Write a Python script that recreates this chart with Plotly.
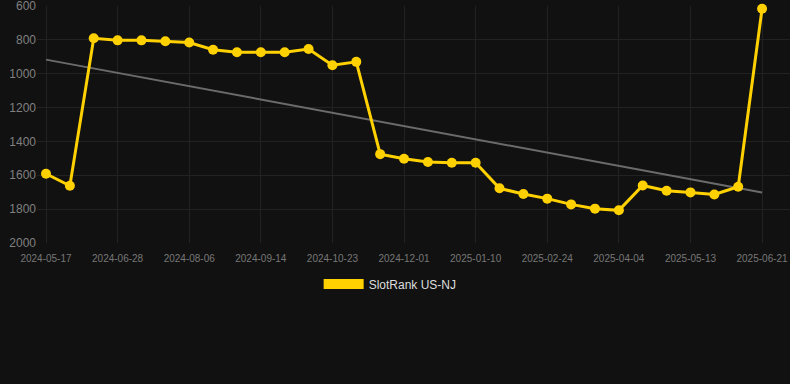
import numpy as np
import plotly.graph_objects as go

dates = ["2024-05-17", "2024-05-31", "2024-06-14", "2024-06-28", "2024-07-11", "2024-07-24",
         "2024-08-06", "2024-08-19", "2024-09-01", "2024-09-14", "2024-09-27", "2024-10-10",
         "2024-10-23", "2024-11-05", "2024-11-18", "2024-12-01", "2024-12-14", "2024-12-27",
         "2025-01-10", "2025-01-25", "2025-02-09", "2025-02-24", "2025-03-09", "2025-03-22",
         "2025-04-04", "2025-04-17", "2025-04-30", "2025-05-13", "2025-05-26", "2025-06-08",
         "2025-06-21"]
ranks = [1591, 1662, 791, 803, 803, 808, 816, 858, 873, 873, 873, 854, 950, 930, 1475,
         1502, 1522, 1526, 1526, 1677, 1711, 1738, 1772, 1797, 1807, 1660, 1691, 1701, 1713,
         1668, 616]
tick_labels = dates[::3]
y_ticks = [600, 800, 1000, 1200, 1400, 1600, 1800, 2000]
series_name = "SlotRank US-NJ"

idx = np.arange(len(ranks))
slope, intercept = np.polyfit(idx, ranks, 1)
trend = slope * idx + intercept

fig = go.Figure()
fig.add_trace(go.Scatter(x=dates, y=trend, mode="lines",
                         line=dict(color="#6b6b6b", width=2), showlegend=False, hoverinfo="skip"))
fig.add_trace(go.Scatter(x=dates, y=ranks, mode="lines+markers", name=series_name,
                         line=dict(color="#FFD100", width=3), cliponaxis=False,
                         marker=dict(color="#FFD100", size=10), showlegend=False))
fig.add_trace(go.Scatter(x=[None], y=[None], mode="lines", name=series_name,
                         line=dict(color="#FFD100", width=12), showlegend=True))

fig.update_layout(
    width=790, height=384,
    margin=dict(l=37, r=0, t=6, b=141),
    paper_bgcolor="#111111", plot_bgcolor="#111111",
    font=dict(family="Liberation Sans, Arial, sans-serif", color="#888888"),
    showlegend=True,
    legend=dict(orientation="h", x=0.469, xanchor="center", y=-0.173, yanchor="middle",
                font=dict(size=12, color="#dddddd"), itemwidth=40,
                bgcolor="rgba(0,0,0,0)"),
    xaxis=dict(type="category", range=[-0.377, 31.17], tickmode="array",
               tickvals=tick_labels, ticktext=tick_labels,
               showgrid=True, gridcolor="#222222", gridwidth=1,
               tickfont=dict(size=10, color="#777777"), zeroline=False,
               showline=False, ticks="", ticklabeloverflow="allow", ticklabelstandoff=8),
    yaxis=dict(range=[2000, 600], tickvals=y_ticks, showgrid=True, gridcolor="#222222",
               tickfont=dict(size=12, color="#808080"), zeroline=False, ticks="",
               ticklabeloverflow="allow"),
)

fig.write_html("out.html", config={"displayModeBar": False},
               post_script="document.body.style.margin='0';document.body.style.background='#111111';")
